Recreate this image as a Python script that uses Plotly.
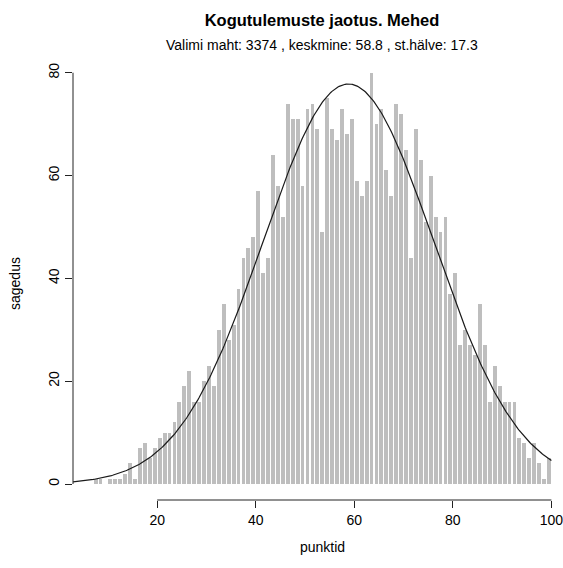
import numpy as np
import plotly.graph_objects as go

# ---- data (histogram, 1-point bins: [k, k+1)) ----
bin_start = list(range(7, 100))
counts = [
    1, 1, 0, 1, 1, 1, 2, 4, 1,            # 7-15
    7, 8, 5, 7, 9, 10, 10, 12,            # 16-23
    16, 19, 22, 16, 16, 20, 23, 19,       # 24-31
    30, 35, 28, 31, 38, 44, 46, 48, 57,   # 32-40
    41, 44, 64, 58, 52, 74, 71, 71, 58, 73,   # 41-50
    74, 69, 49, 75, 69, 67, 73, 68, 71, 59,   # 51-60
    56, 59, 80, 70, 73, 61, 56, 74, 72, 65,   # 61-70
    44, 69, 63, 51, 60, 52, 49, 52, 37,       # 71-79
    41, 27, 30, 27, 25, 35, 27, 16, 23, 19,   # 80-89
    16, 16, 16, 9, 8, 5, 8, 4, 1, 5,          # 90-99
]

# summary statistics shown in the subtitle
n_total = 3374
mean_val = 58.8
sd_val = 17.3

x_ticks = [20, 40, 60, 80, 100]
y_ticks = [0, 20, 40, 60, 80]

title_text = "Kogutulemuste jaotus. Mehed"
subtitle_text = "Valimi maht: 3374 , keskmine: 58.8 , st.hälve: 17.3"
x_label = "punktid"
y_label = "sagedus"

# ---- figure (full window; page body margin removed after plotting) ----
W, H = 563, 568
ML, MR, MT = 73, 0, 68
PLOT_H = 432
MB = H - MT - PLOT_H
x_range = [2.912, 102.354]
y_range = [-3.112, 80.92]

FONT = "Liberation Sans, Arial, sans-serif"
FS = 14

bar_x = [k + 0.5 for k in bin_start]

# fitted normal curve (as drawn in the original from the stated n, mean, sd)
cx = np.linspace(x_range[0], 100, 400)
cy = n_total * np.exp(-0.5 * ((cx - mean_val) / sd_val) ** 2) / (sd_val * np.sqrt(2 * np.pi))

fig = go.Figure()
fig.add_trace(go.Bar(
    x=bar_x, y=counts, width=0.78,
    marker=dict(color="#bebebe", line=dict(width=0)),
    hoverinfo="x+y", showlegend=False,
))
fig.add_trace(go.Scatter(
    x=cx, y=cy, mode="lines",
    line=dict(color="#1a1a1a", width=1.2),
    hoverinfo="skip", showlegend=False,
))

axis_common = dict(
    showgrid=False, zeroline=False, showline=False,
    ticks="outside", ticklen=7, tickwidth=1, tickcolor="#222",
    tickfont=dict(family=FONT, size=FS, color="#000"),
    ticklabeloverflow="allow",
)

plot_h = H - MT - MB
plot_w = W - ML - MR

def py(pix):
    # page pixel (from top) -> paper y
    return (H - MB - pix) / plot_h

def px(pix):
    # page pixel (from left) -> paper x
    return (pix - ML) / plot_w

fig.update_layout(
    width=W, height=H,
    margin=dict(l=ML, r=MR, t=MT, b=MB, autoexpand=False),
    paper_bgcolor="white", plot_bgcolor="white",
    bargap=0,
    xaxis=dict(range=x_range, tickvals=x_ticks, **axis_common),
    yaxis=dict(range=y_range, tickvals=y_ticks, tickangle=-90, **axis_common),
    title=dict(
        text="<b>" + title_text + "</b>",
        x=px(322), xref="paper", xanchor="center",
        y=1 - 20 / H, yref="container", yanchor="middle",
        font=dict(family=FONT, size=16.5, color="#000"),
    ),
    showlegend=False,
)

fig.add_annotation(text=subtitle_text, xref="paper", yref="paper",
                   x=px(322), y=py(45), xanchor="center", yanchor="middle",
                   showarrow=False, font=dict(family=FONT, size=FS, color="#000"))
fig.add_annotation(text=x_label, xref="paper", yref="paper",
                   x=px(322), y=py(547), xanchor="center", yanchor="middle",
                   showarrow=False, font=dict(family=FONT, size=FS, color="#000"))
fig.add_annotation(text=y_label, xref="paper", yref="paper",
                   x=px(15), y=py(284), xanchor="center", yanchor="middle",
                   textangle=-90,
                   showarrow=False, font=dict(family=FONT, size=FS, color="#000"))

# R-style axis lines spanning only the tick range
fig.add_shape(type="line", xref="x", yref="paper",
              x0=x_ticks[0], x1=x_ticks[-1], y0=0, y1=0,
              line=dict(color="#222", width=1))
fig.add_shape(type="line", xref="paper", yref="y",
              x0=0, x1=0, y0=y_ticks[0], y1=y_ticks[-1],
              line=dict(color="#222", width=1))

fig.write_html(
    "out.html",
    config={"displayModeBar": False},
    post_script="document.body.style.margin='0';document.body.style.overflow='hidden';",
)
